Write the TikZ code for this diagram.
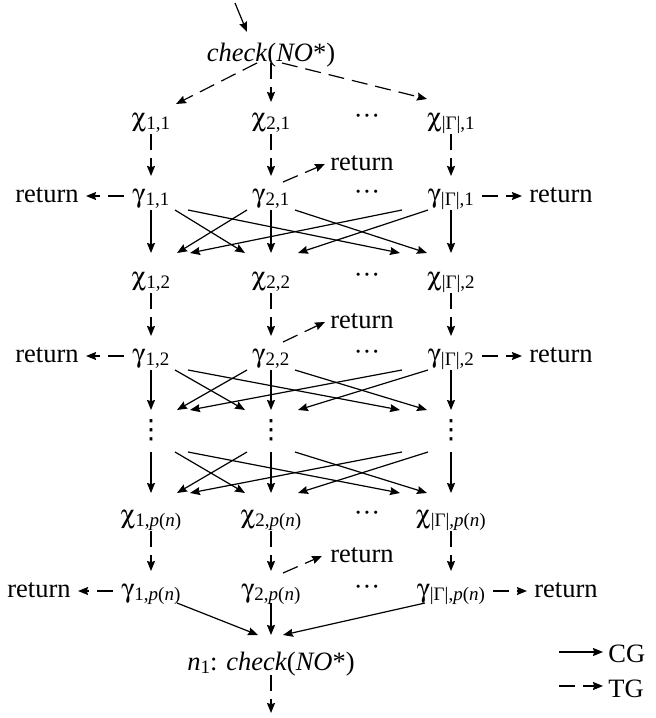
\documentclass[tikz,border=0pt]{standalone}
\usepackage{fontspec}
\usepackage[Symbol]{upgreek}
\setmainfont{Liberation Serif}
\newfontfamily\dejavu{DejaVu Sans}
\usetikzlibrary{arrows.meta,positioning}
\newcommand{\idx}[1]{\raisebox{-1.5pt}{\fontsize{9.5}{10}\selectfont #1}}
\newcommand{\hdots}{···}
\newcommand{\vdts}{{\dejavu ⋮}}

\begin{document}
\begin{tikzpicture}[
        every node/.style={inner sep=0pt, text height=9pt, text depth=3pt, font=\fontsize{13.25}{16}\selectfont},
        node distance=60pt,
        cg/.style={->, >={Stealth[length=5pt, width=4pt, inset=0.6pt]}, line width=0.6pt},
        tg/.style={cg, dash pattern=on 8pt off 4pt},
        side/.style={shorten <=4pt, shorten >=3.5pt}
    ]
    \useasboundingbox (0,0) rectangle (328pt,-359pt);

    \coordinate (in) at (117.5pt,-1.5pt);
    \node (chk) at (135.5pt,-27.5pt) {\textit{check}(\textit{NO}*)};

    % first round
    \node (x11) at (75.5pt,-60pt) {$\upchi$\idx{1,1}};
    \node (x21) [right of=x11] {$\upchi$\idx{2,1}};
    \node (x31) [right of=x21, xshift=30pt] {$\upchi$\idx{|Γ|,1}};
    \node (h11) [right of=x21, xshift=-12pt, yshift=1pt] {\hdots};
    \node (g11) at (75.5pt,-98pt) {$\upgamma$\idx{1,1}};
    \node (g21) [right of=g11] {$\upgamma$\idx{2,1}};
    \node (g31) [right of=g21, xshift=30pt] {$\upgamma$\idx{|Γ|,1}};
    \node (h21) [right of=g21, xshift=-12pt, yshift=1pt] {\hdots};
    \node (l11) [left of=g11, xshift=8pt] {return};
    \node (r21) [right of=g21, xshift=-14.5pt, yshift=16pt] {return};
    \node (r31) [right of=g31, xshift=-5pt] {return};

    % second round
    \node (x12) at (75.5pt,-139.5pt) {$\upchi$\idx{1,2}};
    \node (x22) [right of=x12] {$\upchi$\idx{2,2}};
    \node (x32) [right of=x22, xshift=30pt] {$\upchi$\idx{|Γ|,2}};
    \node (h12) [right of=x22, xshift=-12pt, yshift=1pt] {\hdots};
    \node (g12) at (75.5pt,-178pt) {$\upgamma$\idx{1,2}};
    \node (g22) [right of=g12] {$\upgamma$\idx{2,2}};
    \node (g32) [right of=g22, xshift=30pt] {$\upgamma$\idx{|Γ|,2}};
    \node (h22) [right of=g22, xshift=-12pt, yshift=1pt] {\hdots};
    \node (l12) [left of=g12, xshift=8pt] {return};
    \node (r22) [right of=g22, xshift=-14.5pt, yshift=17pt] {return};
    \node (r32) [right of=g32, xshift=-5pt] {return};

    % vertical dots
    \node (v1) at (75.5pt,-216pt) {\vdts};
    \node (v2) [right of=v1] {\vdts};
    \node (v3) [right of=v2, xshift=30pt] {\vdts};

    % last round
    \node (x1p) at (75.5pt,-258.5pt) {$\upchi$\idx{1,\textit{p}(\textit{n})}};
    \node (x2p) [right of=x1p] {$\upchi$\idx{2,\textit{p}(\textit{n})}};
    \node (x3p) [right of=x2p, xshift=30pt] {$\upchi$\idx{|Γ|,\textit{p}(\textit{n})}};
    \node (h1p) [right of=x2p, xshift=-12pt, yshift=1pt] {\hdots};
    \node (g1p) at (75.5pt,-295.5pt) {$\upgamma$\idx{1,\textit{p}(\textit{n})}};
    \node (g2p) [right of=g1p] {$\upgamma$\idx{2,\textit{p}(\textit{n})}};
    \node (g3p) [right of=g2p, xshift=30pt] {$\upgamma$\idx{|Γ|,\textit{p}(\textit{n})}};
    \node (h2p) [right of=g2p, xshift=-12pt, yshift=1pt] {\hdots};
    \node (l1p) [left of=g1p, xshift=4pt] {return};
    \node (r2p) [right of=g2p, xshift=-14.5pt, yshift=17.5pt] {return};
    \node (r3p) [right of=g3p, xshift=-2.5pt] {return};

    \node (n1) at (135.5pt,-332pt) {\textit{n}\idx{1}: \textit{check}(\textit{NO}*)};
    \coordinate (out) at (135.5pt,-356.5pt);

    % legend
    \coordinate (k1) at (279.5pt,-326pt);
    \coordinate (k2) at (279.5pt,-343pt);
    \node (cgl) [anchor=west] at (304pt,-328pt) {CG};
    \node (tgl) [anchor=west] at (304pt,-345.5pt) {TG};

    \draw [cg] (in) -- ([shift={(-12pt,11.5pt)}]chk.center);
    \draw [tg] ([shift={(-7pt,-4pt)}]chk.center) -- ([shift={(12.5pt,8pt)}]x11.center);
    \draw [tg] ([yshift=-4pt]chk.center) -- ([yshift=9pt]x21.center);
    \draw [tg] ([shift={(5.5pt,-4pt)}]chk.center) -- ([shift={(-12pt,10.5pt)}]x31.center);

    \draw [tg] ([yshift=-7pt]x11.center) -- ([yshift=10pt]g11.center);
    \draw [tg] ([yshift=-7pt]x21.center) -- ([yshift=10pt]g21.center);
    \draw [tg] ([yshift=-7pt]x31.center) -- ([yshift=10pt]g31.center);
    \draw [tg, side] (g11) -- (l11);
    \draw [tg, side] (g31) -- (r31);
    \draw [tg] ([shift={(6pt,7pt)}]g21.center) -- ([xshift=-2.5pt]r21.west);

    \draw [cg] ([yshift=-7pt]g11.center) -- ([yshift=13pt]x12.center);
    \draw [cg] ([shift={(12pt,-7pt)}]g11.center) -- ([shift={(-13pt,13pt)}]x22.center);
    \draw [cg] ([shift={(18.5pt,-7pt)}]g11.center) -- ([shift={(-25.5pt,13pt)}]x32.center);
    \draw [cg] ([shift={(-12pt,-7pt)}]g21.center) -- ([shift={(13pt,13pt)}]x12.center);
    \draw [cg] ([yshift=-7pt]g21.center) -- ([yshift=13pt]x22.center);
    \draw [cg] ([shift={(12pt,-7pt)}]g21.center) -- ([shift={(-12pt,13pt)}]x32.center);
    \draw [cg] ([shift={(-24.5pt,-7pt)}]g31.center) -- ([shift={(19.5pt,13pt)}]x12.center);
    \draw [cg] ([shift={(-11.5pt,-7pt)}]g31.center) -- ([shift={(13.5pt,13pt)}]x22.center);
    \draw [cg] ([yshift=-7pt]g31.center) -- ([yshift=13pt]x32.center);

    \draw [tg] ([yshift=-7pt]x12.center) -- ([yshift=10pt]g12.center);
    \draw [tg] ([yshift=-7pt]x22.center) -- ([yshift=10pt]g22.center);
    \draw [tg] ([yshift=-7pt]x32.center) -- ([yshift=10pt]g32.center);
    \draw [tg, side] (g12) -- (l12);
    \draw [tg, side] (g32) -- (r32);
    \draw [tg] ([shift={(6pt,7pt)}]g22.center) -- ([xshift=-2.5pt]r22.west);

    \draw [cg] ([yshift=-7pt]g12.center) -- ([yshift=11pt]v1.center);
    \draw [cg] ([shift={(12pt,-7pt)}]g12.center) -- ([shift={(-13pt,11pt)}]v2.center);
    \draw [cg] ([shift={(18.5pt,-7pt)}]g12.center) -- ([shift={(-25.5pt,11pt)}]v3.center);
    \draw [cg] ([shift={(-12pt,-7pt)}]g22.center) -- ([shift={(13pt,11pt)}]v1.center);
    \draw [cg] ([yshift=-7pt]g22.center) -- ([yshift=11pt]v2.center);
    \draw [cg] ([shift={(12pt,-7pt)}]g22.center) -- ([shift={(-12pt,11pt)}]v3.center);
    \draw [cg] ([shift={(-24.5pt,-7pt)}]g32.center) -- ([shift={(19.5pt,11pt)}]v1.center);
    \draw [cg] ([shift={(-11.5pt,-7pt)}]g32.center) -- ([shift={(13.5pt,11pt)}]v2.center);
    \draw [cg] ([yshift=-7pt]g32.center) -- ([yshift=11pt]v3.center);

    \draw [cg] ([yshift=-10pt]v1.center) -- ([yshift=12pt]x1p.center);
    \draw [cg] ([shift={(12pt,-10pt)}]v1.center) -- ([shift={(-13pt,12pt)}]x2p.center);
    \draw [cg] ([shift={(18.5pt,-10pt)}]v1.center) -- ([shift={(-25.5pt,12pt)}]x3p.center);
    \draw [cg] ([shift={(-12pt,-10pt)}]v2.center) -- ([shift={(13pt,12pt)}]x1p.center);
    \draw [cg] ([yshift=-10pt]v2.center) -- ([yshift=12pt]x2p.center);
    \draw [cg] ([shift={(12pt,-10pt)}]v2.center) -- ([shift={(-12pt,12pt)}]x3p.center);
    \draw [cg] ([shift={(-24.5pt,-10pt)}]v3.center) -- ([shift={(19.5pt,12pt)}]x1p.center);
    \draw [cg] ([shift={(-11.5pt,-10pt)}]v3.center) -- ([shift={(13.5pt,12pt)}]x2p.center);
    \draw [cg] ([yshift=-10pt]v3.center) -- ([yshift=12pt]x3p.center);

    \draw [tg] ([yshift=-7pt]x1p.center) -- ([yshift=10pt]g1p.center);
    \draw [tg] ([yshift=-7pt]x2p.center) -- ([yshift=10pt]g2p.center);
    \draw [tg] ([yshift=-7pt]x3p.center) -- ([yshift=10pt]g3p.center);
    \draw [tg, side] (g1p) -- (l1p);
    \draw [tg, side] (g3p) -- (r3p);
    \draw [tg] ([shift={(6pt,9pt)}]g2p.center) -- ([xshift=-4pt]r2p.west);

    \draw [cg] ([shift={(13pt,-6pt)}]g1p.center) -- ([shift={(-6.5pt,14.5pt)}]n1.center);
    \draw [cg] ([yshift=-6pt]g2p.center) -- ([yshift=14.5pt]n1.center);
    \draw [cg] ([shift={(-13pt,-6pt)}]g3p.center) -- ([shift={(6pt,14.5pt)}]n1.center);
    \draw [tg] ([yshift=-5.5pt]n1.center) -- (out);

    \draw [cg, shorten >=2.5pt] (k1) -- (k1 -| cgl.west);
    \draw [tg, shorten >=2.5pt] (k2) -- (k2 -| tgl.west);
\end{tikzpicture}
\end{document}
